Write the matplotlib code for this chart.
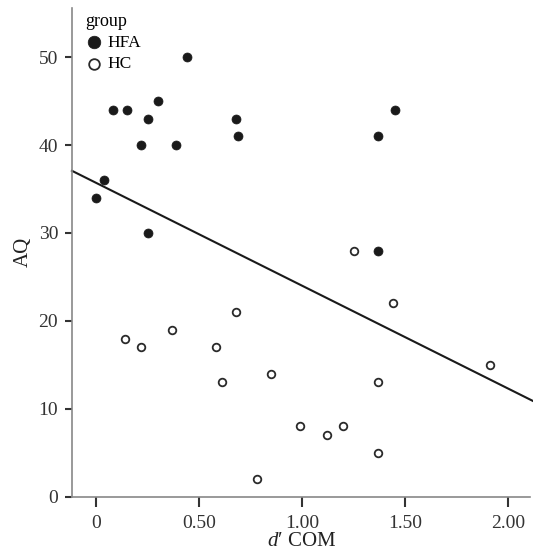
import matplotlib
matplotlib.use("Agg")
import matplotlib.pyplot as plt
import numpy as np

plt.rcParams['font.family'] = ['Liberation Serif', 'DejaVu Serif']
plt.rcParams['mathtext.fontset'] = 'custom'
plt.rcParams['mathtext.it'] = 'Liberation Serif:italic'
plt.rcParams['mathtext.rm'] = 'Liberation Serif'

hfa_x = [0.00, 0.04, 0.08, 0.15, 0.22, 0.25, 0.25, 0.30, 0.39, 0.44, 0.68, 0.69, 1.45, 1.37, 1.37]
hfa_y = [34, 36, 44, 44, 40, 43, 30, 45, 40, 50, 43, 41, 44, 41, 28]
hc_x = [1.25, 0.14, 0.22, 0.37, 0.58, 0.61, 0.68, 0.78, 0.85, 1.44, 1.91, 1.37, 0.99, 1.12, 1.20, 1.37]
hc_y = [28, 18, 17, 19, 17, 13, 21, 2, 14, 22, 15, 13, 8, 7, 8, 5]
fit_coef = [35.7, -11.7]  # intercept, slope
xticks = [0, 0.5, 1.0, 1.5, 2.0]
xticklabels = ['0', '0.50', '1.00', '1.50', '2.00']
yticks = [0, 10, 20, 30, 40, 50]

fig = plt.figure(figsize=(5.33, 5.57), dpi=100)
ax = fig.add_axes([0.135, 0.108, 0.860, 0.878])

ax.scatter(hfa_x, hfa_y, s=42, c='#1a1a1a', edgecolors='#1a1a1a', linewidths=0.5, label='HFA', zorder=3)
ax.scatter(hc_x, hc_y, s=30, facecolors='white', edgecolors='#2a2a2a', linewidths=1.3, label='HC', zorder=3)

xl = (-0.117, 2.107)
xx = np.array([xl[0], xl[1] + 0.02])
ax.plot(xx, fit_coef[0] + fit_coef[1] * xx, color='#1a1a1a', lw=1.5, clip_on=False, zorder=2)

ax.set_xlim(*xl)
ax.set_ylim(0, 55.6)
ax.set_xticks(xticks)
ax.set_xticklabels(xticklabels)
ax.set_yticks(yticks)

for s in ['top', 'right']:
    ax.spines[s].set_visible(False)
for s in ['left', 'bottom']:
    ax.spines[s].set_color('#888888')
    ax.spines[s].set_linewidth(1.2)
ax.tick_params(axis='y', length=5, width=1.5, color='#333333', labelsize=14, labelcolor='#333333', pad=5)
ax.tick_params(axis='x', length=7, width=1.5, color='#333333', labelsize=14, labelcolor='#333333', pad=6)

ax.set_ylabel('AQ', fontsize=15, color='#222222', labelpad=4)
ax.set_xlabel("$d$\u2032 COM", fontsize=15, color='#222222', labelpad=0)

leg = ax.legend(loc='upper left', title='group', frameon=False, markerscale=1.4,
                handletextpad=0.25, handlelength=1.0, borderaxespad=0.0, labelspacing=0.3,
                borderpad=0.0, fontsize=12.5, title_fontsize=13, bbox_to_anchor=(0.03, 0.99))
leg._legend_box.align = 'left'

fig.savefig('out.png', dpi=100)
